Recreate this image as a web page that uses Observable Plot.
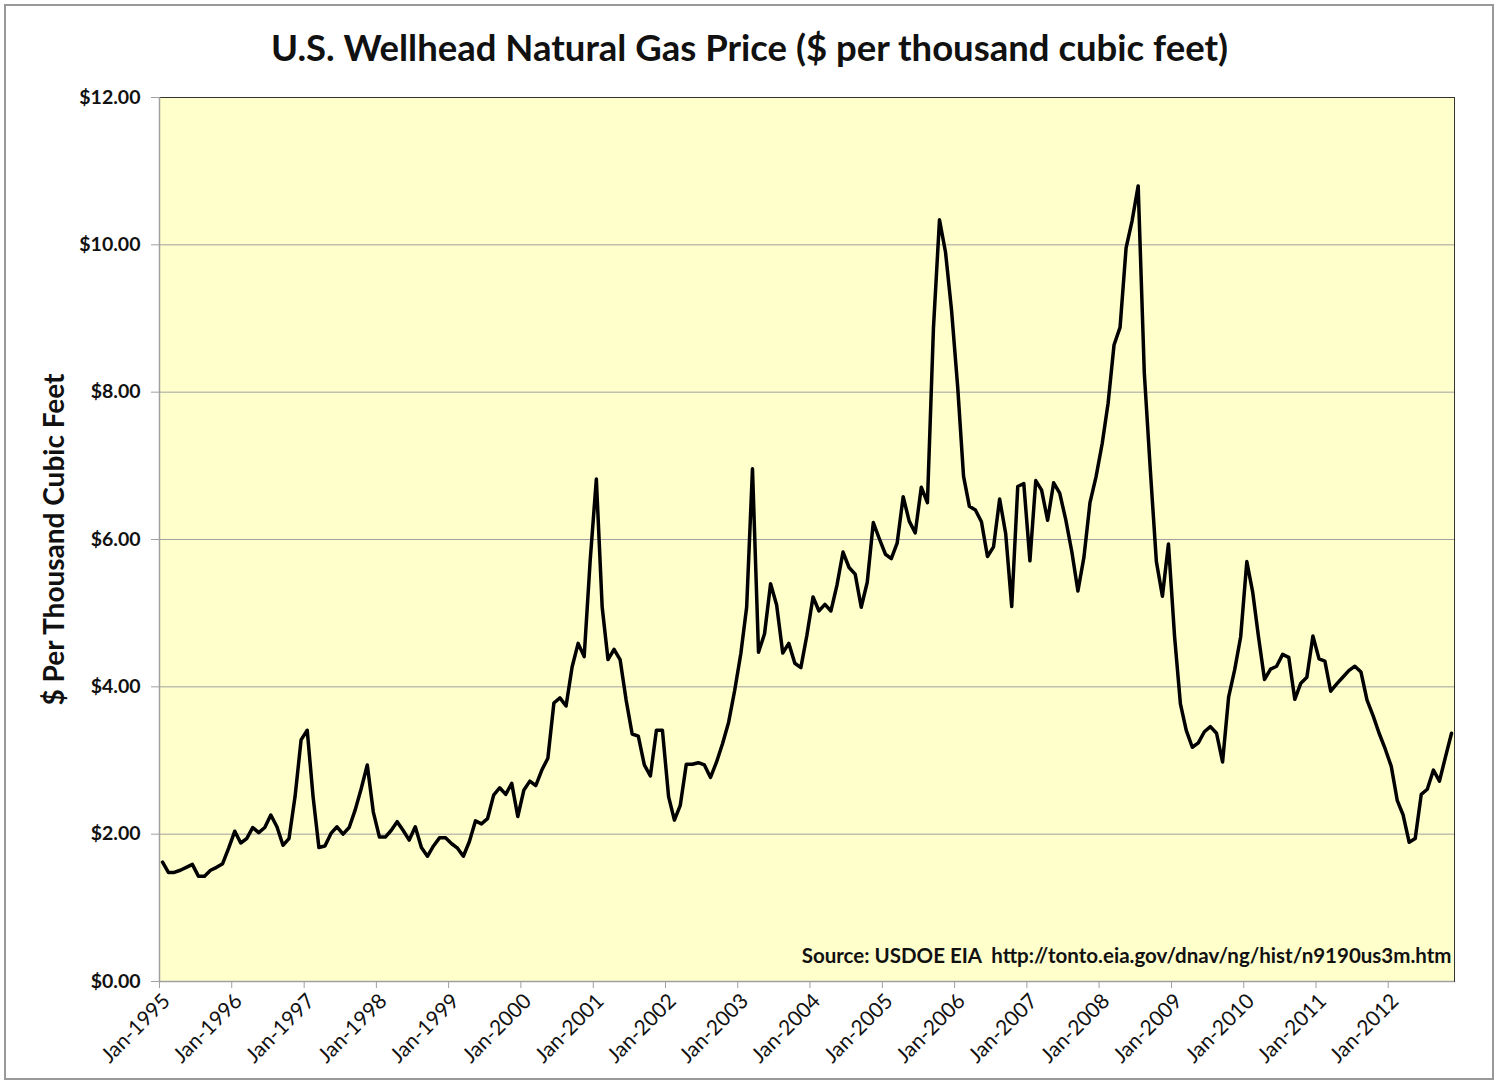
<!DOCTYPE html>
<html><head><meta charset="utf-8">
<script src="https://cdn.jsdelivr.net/npm/d3@7"></script>
<script src="https://cdn.jsdelivr.net/npm/@observablehq/plot@0.6"></script>
<style>
body{margin:0;background:#fff;font-family:Lato,sans-serif}
#chart{position:relative;width:1499px;height:1082px;overflow:hidden}
#border{position:absolute;left:4px;top:4px;width:1490px;height:1076px;border:2px solid #999;box-sizing:border-box}
#title{position:absolute;left:0;top:25px;width:1499px;text-align:center;font-weight:bold;font-size:36.5px;line-height:44px;color:#111}
#plot{position:absolute;left:0;top:80px}
</style></head><body>
<div id="chart"><div id="border"></div><div id="title">U.S. Wellhead Natural Gas Price ($ per thousand cubic feet)</div><div id="plot"></div></div>
<script>
const firstMonth = "1995-01";
const lastMonth = "2012-11";
const prices = [
  1.62,1.48,1.48,1.51,1.55,1.59,1.43,1.43,1.51,1.55,1.60,1.81,
  2.04,1.88,1.94,2.09,2.02,2.09,2.26,2.10,1.85,1.94,2.51,3.28,
  3.41,2.51,1.82,1.84,2.01,2.10,2.00,2.09,2.33,2.62,2.94,2.30,
  1.96,1.96,2.05,2.17,2.05,1.92,2.10,1.82,1.70,1.84,1.95,1.95,
  1.87,1.81,1.70,1.90,2.18,2.14,2.21,2.53,2.63,2.54,2.69,2.24,
  2.60,2.72,2.66,2.87,3.03,3.78,3.85,3.74,4.27,4.59,4.41,5.72,
  6.82,5.08,4.37,4.51,4.37,3.82,3.36,3.33,2.94,2.79,3.41,3.41,
  2.51,2.19,2.39,2.95,2.95,2.97,2.94,2.77,2.98,3.23,3.52,3.95,
  4.45,5.08,6.96,4.47,4.72,5.40,5.11,4.46,4.59,4.32,4.26,4.70,
  5.22,5.03,5.12,5.03,5.38,5.83,5.62,5.53,5.08,5.42,6.23,6.01,
  5.80,5.74,5.95,6.58,6.25,6.09,6.71,6.50,8.87,10.34,9.90,9.11,
  8.07,6.86,6.45,6.40,6.24,5.77,5.90,6.55,6.08,5.09,6.72,6.76,
  5.71,6.80,6.67,6.26,6.77,6.63,6.27,5.83,5.30,5.76,6.50,6.85,
  7.30,7.85,8.64,8.88,9.96,10.33,10.80,8.26,6.94,5.70,5.23,5.94,
  4.68,3.77,3.41,3.18,3.24,3.39,3.46,3.37,2.98,3.86,4.23,4.68,
  5.70,5.29,4.68,4.10,4.24,4.28,4.44,4.40,3.83,4.05,4.13,4.69,
  4.38,4.35,3.94,4.04,4.13,4.22,4.28,4.20,3.82,3.61,3.37,3.16,
  2.92,2.46,2.26,1.89,1.94,2.54,2.61,2.87,2.72,3.05,3.37
];
const yTicks = [0, 2, 4, 6, 8, 10, 12];
const tickYears = [1995,1996,1997,1998,1999,2000,2001,2002,2003,2004,2005,2006,2007,2008,2009,2010,2011,2012];
const yLabel = "$ Per Thousand Cubic Feet";
const sourceLabel = "Source: USDOE EIA  http://tonto.eia.gov/dnav/ng/hist/n9190us3m.htm";

const parseMonth = d3.utcParse("%Y-%m");
const start = parseMonth(firstMonth);
const lastStart = parseMonth(lastMonth);
const end = d3.utcMonth.offset(lastStart, 1);
const data = prices.map((price, i) => {
  const m0 = d3.utcMonth.offset(start, i);
  const m1 = d3.utcMonth.offset(start, i + 1);
  return {month: m0, mid: new Date((+m0 + +m1) / 2), price};
});
const tickDates = tickYears.map(y => new Date(Date.UTC(y, 0, 1)));

const chart = Plot.plot({
  width: 1494,
  height: 1000,
  marginLeft: 159,
  marginRight: 40,
  marginTop: 17,
  marginBottom: 99,
  style: {fontFamily: "Lato, sans-serif", background: "transparent", overflow: "visible", color: "#111"},
  x: {type: "utc", domain: [start, end]},
  y: {domain: [0, 12]},
  marks: [
    Plot.frame({fill: "#ffffcc", stroke: "none"}),
    Plot.gridY(yTicks, {stroke: "#a0a0a0", strokeOpacity: 1, strokeWidth: 1}),
    Plot.frame({stroke: "#333", strokeWidth: 1}),
    Plot.ruleX([start], {stroke: "#a0a0a0", strokeWidth: 1.5}),
    Plot.ruleY([0], {stroke: "#a0a0a0", strokeWidth: 1.5}),
    Plot.axisY(yTicks, {
      tickFormat: d => "$" + d.toFixed(2),
      tickSize: 8, tickPadding: 11, fontSize: 19.5, fontWeight: "bold",
      stroke: "#a0a0a0", label: null
    }),
    Plot.axisX(tickDates, {
      tickFormat: d3.utcFormat("Jan-%Y"),
      tickRotate: -45, tickSize: 7, tickPadding: 9, fontSize: 21,
      stroke: "#a0a0a0", fill: "none", label: null
    }),
    Plot.axisX(tickDates, {
      tickFormat: d3.utcFormat("Jan-%Y"),
      tickRotate: -45, tickSize: 0, tickPadding: 16, fontSize: 21, dx: 7,
      label: null, stroke: "none", fill: "#111"
    }),
    Plot.text([yLabel], {
      frameAnchor: "left", rotate: -90, dx: -104, textAnchor: "middle",
      fontSize: 28, fontWeight: "bold", fill: "#111"
    }),
    Plot.text([sourceLabel], {
      frameAnchor: "bottom-right", dx: -3, dy: -19, lineAnchor: "bottom",
      fontSize: 20.5, fontWeight: "bold", fill: "#111"
    }),
    Plot.line(data, {x: "mid", y: "price", stroke: "#000", strokeWidth: 3.5, strokeLinejoin: "round", strokeLinecap: "round"})
  ]
});
document.getElementById("plot").appendChild(chart);
</script>
</body></html>
